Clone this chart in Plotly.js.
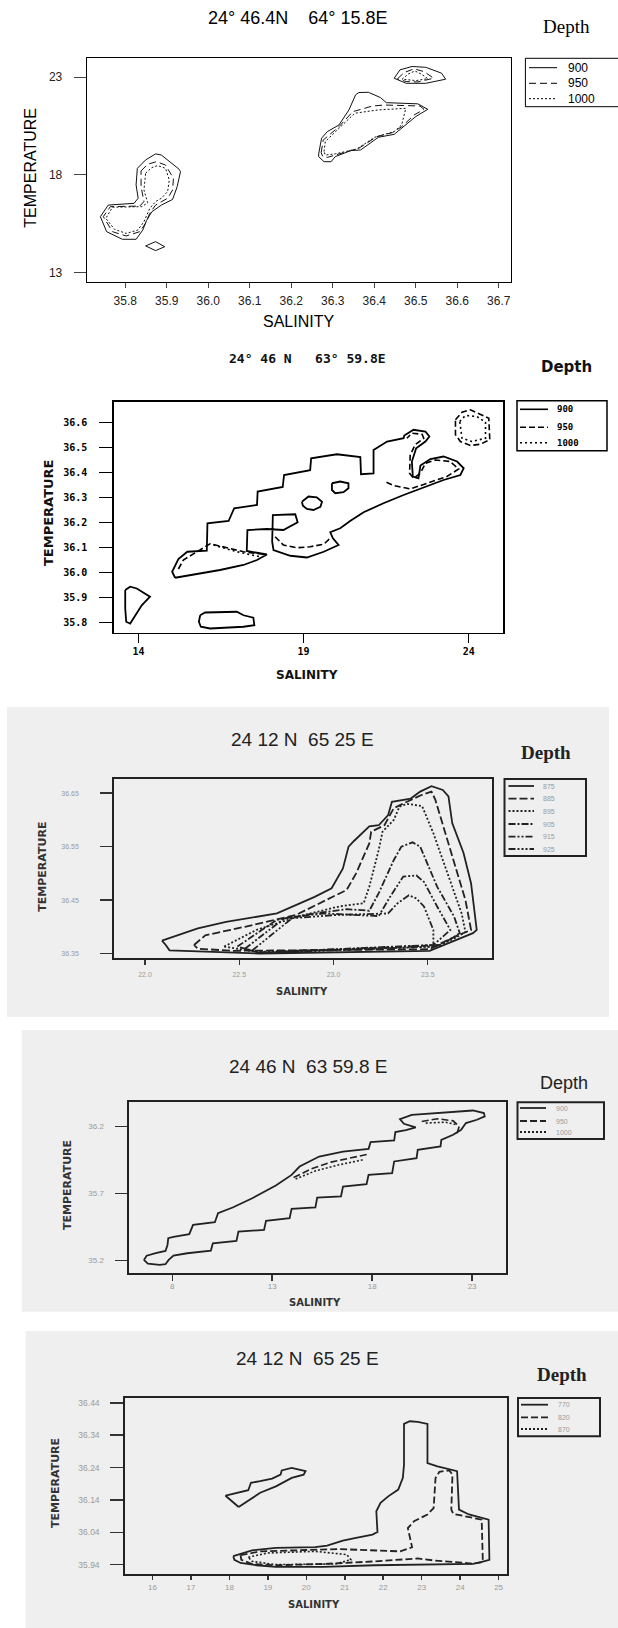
<!DOCTYPE html>
<html><head><meta charset="utf-8">
<script src="https://cdn.plot.ly/plotly-3.0.1.min.js"></script>
<style>html,body{margin:0;padding:0;background:#fff;overflow:hidden}#chart{width:618px;height:1628px}</style>
</head><body><div id="chart"></div>
<script>
// ================= DATA (salinity = x, temperature = y) =================
// Panel 1 : 24° 46.4N 64° 15.8E
const p1_depths = ['900','950','1000'];
const p1_sal_900  = [35.829,35.849,35.873,35.887,35.930,35.933,35.925,35.914,35.887,35.864,35.851,35.842,35.826,35.793,35.755,35.740,35.759,35.821,35.831,35.826,35.829,null,
                     35.849,35.873,35.895,35.873,35.849,null,
                     36.266,36.273,36.287,36.315,36.339,36.355,36.363,36.386,36.415,36.429,36.505,36.529,36.500,36.467,36.448,36.410,36.367,36.344,36.306,36.296,36.279,36.266,36.266,null,
                     36.448,36.462,36.491,36.524,36.562,36.572,36.524,36.477,36.448];
const p1_temp_900 = [18.34,18.77,19.08,19.02,18.29,18.17,17.40,16.75,16.46,16.12,15.66,15.18,14.71,14.71,15.10,15.87,16.46,16.55,16.81,17.49,18.34,null,
                     14.37,14.59,14.33,14.13,14.37,null,
                     19.08,19.88,20.22,20.56,21.33,22.10,22.22,22.23,21.96,21.70,21.64,21.36,20.99,20.39,20.08,19.93,19.28,19.25,18.94,18.68,18.68,18.94,19.08,null,
                     22.95,23.38,23.55,23.51,23.21,22.90,22.69,22.69,22.95];
const p1_sal_950  = [35.838,35.854,35.875,35.897,35.916,35.914,35.902,35.873,35.859,35.849,35.835,35.802,35.769,35.747,35.764,35.835,35.845,35.838,35.838,null,
                     36.272,36.277,36.315,36.348,36.396,36.424,36.510,36.520,36.496,36.466,36.444,36.406,36.363,36.315,36.287,36.276,36.272,null,
                     36.456,36.472,36.496,36.520,36.543,36.505,36.477,36.456];
const p1_temp_950 = [18.21,18.55,18.68,18.51,17.83,17.23,16.81,16.46,16.04,15.53,15.10,14.88,15.10,15.87,16.38,16.41,16.64,17.40,18.21,null,
                     19.14,19.79,20.47,21.24,21.53,21.58,21.53,21.36,21.07,20.47,20.17,19.96,19.37,19.08,18.90,18.94,19.14,null,
                     22.92,23.24,23.43,23.29,22.95,22.76,22.78,22.92];
const p1_sal_1000  = [35.849,35.864,35.878,35.897,35.906,35.902,35.887,35.873,35.859,35.845,35.830,35.802,35.774,35.753,35.769,35.840,35.854,35.845,35.849,null,
                      36.279,36.282,36.315,36.353,36.410,36.476,36.466,36.448,36.401,36.358,36.306,36.282,36.279,null,
                      36.467,36.482,36.498,36.513,36.529,36.501,36.467];
const p1_temp_1000 = [18.09,18.38,18.48,18.34,17.74,17.15,16.81,16.64,16.29,15.61,15.18,15.01,15.22,15.78,16.35,16.38,16.58,17.23,18.09,null,
                      19.20,19.71,20.39,21.16,21.33,21.41,20.56,20.22,19.93,19.33,19.08,19.02,19.20,null,
                      22.90,23.17,23.32,23.17,22.93,22.83,22.90];
const p1_xticks = [35.8,35.9,36.0,36.1,36.2,36.3,36.4,36.5,36.6,36.7];
const p1_yticks = [13,18,23];

// Panel 2 : 24° 46 N 63° 59.8E
const p2_depths = ['900','950','1000'];
const p2_sal_900 = [15.11,15.02,15.21,15.48,16.07,16.09,16.73,16.90,17.59,17.61,18.37,18.41,19.20,19.23,20.01,20.72,20.74,21.12,21.12,21.53,22.03,22.05,22.33,22.69,22.81,22.69,22.41,22.28,22.31,22.48,22.54,22.84,23.24,23.65,23.85,23.75,23.24,22.79,22.48,22.03,21.42,20.82,20.41,20.11,19.81,19.89,20.06,19.61,19.10,18.60,18.09,18.05,18.07,18.75,18.82,18.39,17.89,17.30,17.28,17.89,17.59,17.18,16.47,15.67,15.11,null,
                    19.86,20.11,20.36,20.36,20.21,19.96,19.86,19.86,null,
                    18.95,19.15,19.40,19.56,19.51,19.30,19.10,18.98,18.95,null,
                    13.60,13.75,13.95,14.10,14.35,14.10,13.90,13.75,13.63,13.60,13.60,null,
                    15.87,16.02,16.98,17.18,17.48,17.51,17.18,16.17,15.89,15.83,15.87];
const p2_temp_900 = [35.979,36.003,36.054,36.083,36.087,36.197,36.206,36.257,36.270,36.324,36.342,36.390,36.409,36.457,36.473,36.462,36.393,36.396,36.490,36.524,36.537,36.548,36.571,36.564,36.544,36.524,36.497,36.444,36.384,36.377,36.428,36.454,36.464,36.444,36.417,36.390,36.370,36.348,36.330,36.310,36.277,36.241,36.206,36.177,36.161,36.137,36.110,36.083,36.060,36.067,36.090,36.123,36.230,36.233,36.201,36.170,36.174,36.170,36.086,36.072,36.050,36.030,36.010,35.990,35.979,null,
                     36.357,36.364,36.357,36.337,36.321,36.317,36.330,36.357,null,
                     36.283,36.304,36.301,36.283,36.263,36.250,36.254,36.267,36.283,null,
                     35.930,35.943,35.936,35.923,35.903,35.869,35.829,35.796,35.803,35.856,35.930,null,
                     35.829,35.840,35.843,35.829,35.819,35.789,35.783,35.776,35.783,35.803,35.829];
const p2_sal_950 = [15.21,15.36,16.17,16.58,17.18,17.84,null,
                    18.14,18.39,18.80,19.20,19.61,19.81,null,
                    21.51,21.73,22.23,22.74,23.34,23.70,23.44,22.99,22.69,22.54,22.33,22.21,22.23,22.38,22.64,22.59,22.28,22.13,null,
                    23.60,23.80,24.05,24.30,24.61,24.64,24.35,24.05,23.75,23.60,23.60];
const p2_temp_950 = [36.014,36.050,36.115,36.103,36.083,36.072,null,
                     36.143,36.110,36.099,36.103,36.113,36.137,null,
                     36.361,36.348,36.334,36.357,36.384,36.414,36.444,36.450,36.437,36.397,36.377,36.397,36.470,36.511,36.537,36.553,36.557,36.537,null,
                     36.611,36.641,36.651,36.637,36.617,36.531,36.513,36.508,36.524,36.551,36.611];
const p2_sal_1000  = [16.27,16.98,17.69,null, 23.73,23.90,24.25,24.51,24.51,24.10,23.80,23.73];
const p2_temp_1000 = [36.110,36.083,36.063,null, 36.604,36.628,36.624,36.601,36.537,36.524,36.537,36.604];
const p2_xticks = [14,19,24];
const p2_yticks = [35.8,35.9,36.0,36.1,36.2,36.3,36.4,36.5,36.6];

// Panel 3 : 24 12 N 65 25 E
const p3_depths = ['875','885','895','905','915','925'];
const p3_sal_875  = [22.09,22.28,22.43,22.70,22.90,22.99,23.05,23.08,23.11,23.19,23.24,23.29,23.31,23.41,23.46,23.52,23.58,23.61,23.63,23.69,23.73,23.76,23.74,23.67,23.57,23.51,22.61,22.42,22.13,22.11,22.09];
const p3_temp_875 = [36.374,36.397,36.409,36.425,36.456,36.472,36.509,36.550,36.561,36.588,36.590,36.609,36.634,36.640,36.653,36.663,36.656,36.644,36.594,36.538,36.481,36.394,36.388,36.378,36.363,36.355,36.350,36.352,36.356,36.366,36.374];
const p3_sal_885  = [22.26,22.32,22.53,22.80,23.07,23.12,23.19,23.20,23.27,23.32,23.39,23.47,23.52,23.54,23.62,23.70,23.73,23.66,23.57,23.51,22.46,22.28,22.26];
const p3_temp_885 = [36.366,36.384,36.400,36.422,36.469,36.500,36.556,36.578,36.590,36.622,36.634,36.647,36.653,36.638,36.544,36.450,36.394,36.384,36.369,36.358,36.355,36.359,36.366];
const p3_sal_895  = [22.42,22.59,22.82,23.03,23.16,23.19,23.24,23.26,23.32,23.35,23.39,23.47,23.53,23.61,23.68,23.70,23.64,23.55,22.59,22.42];
const p3_temp_895 = [36.363,36.394,36.420,36.438,36.444,36.475,36.544,36.578,36.600,36.625,36.630,36.626,36.575,36.494,36.425,36.390,36.378,36.363,36.353,36.363];
const p3_sal_905  = [22.49,22.70,22.90,23.07,23.19,23.24,23.32,23.36,23.42,23.46,23.55,23.64,23.67,23.57,22.61,22.49];
const p3_temp_905 = [36.363,36.413,36.425,36.433,36.430,36.463,36.525,36.550,36.558,36.550,36.475,36.419,36.388,36.366,36.351,36.363];
const p3_sal_915  = [22.53,22.74,22.95,23.24,23.30,23.37,23.44,23.48,23.55,23.62,23.53,22.61,22.53];
const p3_temp_915 = [36.359,36.416,36.425,36.420,36.456,36.494,36.496,36.484,36.438,36.394,36.366,36.352,36.359];
const p3_sal_925  = [22.57,22.78,23.01,23.29,23.34,23.40,23.44,23.48,23.53,23.53,22.65,22.57];
const p3_temp_925 = [36.356,36.416,36.422,36.425,36.444,36.459,36.453,36.438,36.394,36.363,36.351,36.356];
const p3_xticks = [22.0,22.5,23.0,23.5];
const p3_yticks = [36.35,36.45,36.55,36.65];

// Panel 4 : 24 46 N 63 59.8 E
const p4_depths = ['900','950','1000'];
const p4_sal_900  = [6.58,6.72,7.17,7.66,7.76,7.80,8.06,8.85,9.04,10.13,10.29,11.02,12.00,13.18,13.97,14.37,15.35,16.54,17.82,17.92,19.10,19.16,19.69,20.18,19.59,19.39,19.98,22.05,23.04,23.59,23.63,23.24,22.69,22.45,22.05,21.46,21.42,20.28,20.22,19.10,19.00,17.82,17.72,16.54,16.44,15.25,15.16,13.97,13.87,12.69,12.59,11.31,11.21,10.03,9.93,8.75,8.06,7.82,7.66,7.37,6.78,6.58];
const p4_temp_900 = [35.205,35.237,35.255,35.272,35.317,35.367,35.377,35.397,35.466,35.486,35.553,35.596,35.665,35.760,35.839,35.901,35.976,36.013,36.033,36.083,36.096,36.158,36.173,36.193,36.220,36.255,36.287,36.307,36.319,36.300,36.275,36.250,36.225,36.175,36.138,36.100,36.051,36.026,35.964,35.939,35.852,35.839,35.770,35.752,35.678,35.670,35.596,35.586,35.516,35.496,35.429,35.416,35.347,35.329,35.275,35.255,35.237,35.205,35.173,35.168,35.178,35.205];
const p4_sal_950   = [14.07,14.96,15.94,17.13,17.82,null,20.48,21.27,22.05,22.35,22.25];
const p4_temp_950  = [35.819,35.884,35.934,35.969,35.994,null,36.237,36.257,36.242,36.200,36.150];
const p4_sal_1000  = [14.17,15.16,16.34,17.52,null,20.68,21.66,22.25];
const p4_temp_1000 = [35.809,35.869,35.914,35.951,null,36.225,36.232,36.212];
const p4_xticks = [8,13,18,23];
const p4_yticks = [35.2,35.7,36.2];

// Panel 5 : 24 12 N 65 25 E
const p5_depths = ['770','820','870'];
const p5_sal_770  = [18.10,18.59,19.21,20.23,20.54,20.95,21.26,21.72,21.85,21.82,21.93,22.13,22.39,22.51,22.54,22.54,22.69,22.90,23.15,23.15,23.41,23.92,23.97,24.23,24.74,24.76,24.54,24.33,21.77,20.44,19.21,18.70,18.29,18.13,18.10,null,
                     18.24,17.90,18.49,18.56,18.80,19.11,19.33,19.36,19.62,19.98,19.93,19.62,19.21,18.80,18.24];
const p5_temp_770 = [35.966,35.984,35.992,35.994,35.999,36.014,36.022,36.033,36.041,36.105,36.131,36.151,36.172,36.208,36.249,36.375,36.383,36.381,36.375,36.254,36.244,36.229,36.110,36.095,36.079,35.955,35.948,35.942,35.938,35.933,35.933,35.938,35.945,35.955,35.966,null,
                     36.118,36.153,36.170,36.193,36.198,36.206,36.218,36.231,36.239,36.229,36.218,36.208,36.182,36.162,36.118];
const p5_sal_820  = [18.29,18.80,20.85,22.44,22.75,22.69,22.64,22.80,23.15,23.31,23.36,23.46,23.72,23.80,23.77,23.82,24.23,24.56,24.59,24.33,23.31,22.90,21.77,20.44,19.21,18.59,18.31,18.29];
const p5_temp_820 = [35.969,35.981,35.988,35.981,35.994,36.022,36.053,36.074,36.095,36.115,36.208,36.227,36.231,36.218,36.110,36.097,36.086,36.079,35.948,35.943,35.953,35.959,35.950,35.942,35.938,35.942,35.955,35.969];
const p5_sal_870  = [18.49,19.00,20.23,21.05,21.16,20.75,19.21,18.59,18.49];
const p5_temp_870 = [35.963,35.976,35.981,35.971,35.955,35.942,35.940,35.950,35.963];
const p5_xticks = [16,17,18,19,20,21,22,23,24,25];
const p5_yticks = [35.94,36.04,36.14,36.24,36.34,36.44];

// ================= LAYOUT HELPERS (page pixels -> paper) =================
const W = 618, H = 1628;
const fx = v => v / W, fy = v => 1 - v / H;
const SANS = 'Liberation Sans, Arial, sans-serif';
const SERIF = 'Liberation Serif, Times New Roman, serif';
const DJ = 'DejaVu Sans, sans-serif';
const MONO = 'DejaVu Sans Mono, monospace';

const traces = [], shapes = [], annotations = [];
const layout = {
  width: W, height: H, margin: {l:0, r:0, t:0, b:0},
  paper_bgcolor: '#ffffff', plot_bgcolor: 'rgba(0,0,0,0)',
  showlegend: false, shapes, annotations
};

function axes(n, box, xr, yr, xt, yt, o) {
  const xk = n === 1 ? 'xaxis' : 'xaxis' + n, yk = n === 1 ? 'yaxis' : 'yaxis' + n;
  const xa = n === 1 ? 'x' : 'x' + n, ya = n === 1 ? 'y' : 'y' + n;
  const common = {showline:true, mirror:true, linecolor:o.lc, linewidth:o.lw, showgrid:false, zeroline:false,
                  ticks:'outside', tickwidth:o.tw, tickcolor:o.tc, fixedrange:true};
  layout[xk] = Object.assign({}, common, {domain:[fx(box[0]), fx(box[2])], range:xr, anchor:ya, tickfont:o.xtf || o.tf,
      tickvals:xt, ticktext:xt.map(v => o.xfmt(v)), ticklen:o.xtl, ticklabelstandoff:o.xso});
  layout[yk] = Object.assign({}, common, {domain:[fy(box[3]), fy(box[1])], range:yr, anchor:xa, tickfont:o.ytf || o.tf,
      tickvals:yt, ticktext:yt.map(v => o.yfmt(v)), ticklen:o.ytl, ticklabelstandoff:o.yso});
}
function line(n, xs, ys, color, width, dash) {
  const xa = n === 1 ? 'x' : 'x' + n, ya = n === 1 ? 'y' : 'y' + n;
  traces.push({type:'scatter', mode:'lines', x:xs, y:ys, xaxis:xa, yaxis:ya,
               line:{color, width, dash}, hoverinfo:'skip', connectgaps:false});
}
function text(t, x, y, font, extra) {
  annotations.push(Object.assign({text:t, x:fx(x), y:fy(y), xref:'paper', yref:'paper',
      showarrow:false, xanchor:'center', yanchor:'middle', font}, extra || {}));
}
function rect(x0, y0, x1, y1, fill, lc, lw, layer) {
  shapes.push({type:'rect', xref:'paper', yref:'paper', x0:fx(x0), x1:fx(x1), y0:fy(y1), y1:fy(y0),
      fillcolor:fill, line:{color:lc, width:lw}, layer:layer || 'above'});
}
function legend(box, bw, items, sx0, sx1, lx, font, lc, lwid) {
  rect(box[0], box[1], box[2], box[3], 'rgba(0,0,0,0)', lc, bw);
  items.forEach(it => {
    shapes.push({type:'line', xref:'paper', yref:'paper', x0:fx(sx0), x1:fx(sx1), y0:fy(it.y), y1:fy(it.y),
                 line:{color:lc, width:lwid, dash:it.dash}});
    text(it.label, lx, it.y, font, {xanchor:'left'});
  });
}
const f1 = v => v.toFixed(1), f0 = v => String(v), f2 = v => v.toFixed(2);

// ---------------- Panel 1 ----------------
axes(1, [86.7,58.3,511.2,281.7], [35.707,36.73], [12.54,23.97], p1_xticks, p1_yticks,
  {lc:'#000', lw:1, tw:1, tc:'#444', tf:{family:SANS, size:12, color:'#222'}, xtl:5, ytl:12, xso:3, yso:9, xfmt:f1, yfmt:f0});
line(1, p1_sal_900, p1_temp_900, '#111', 1, 'solid');
line(1, p1_sal_950, p1_temp_950, '#111', 1, '7px,4px');
line(1, p1_sal_1000, p1_temp_1000, '#111', 1, '2px,2px');
text('24° 46.4N\u00a0\u00a0\u00a0 64° 15.8E', 298, 18.3, {family:SANS, size:18, color:'#000'});
text('Depth', 566, 26, {family:SERIF, size:19, color:'#000'});
text('SALINITY', 298, 321.7, {family:SANS, size:16, color:'#000'});
text('TEMPERATURE', 30.7, 168, {family:SANS, size:16, color:'#000'}, {textangle:-90});
legend([525.4,58.3,622,106.7], 1, [
  {y:67.7, dash:'solid', label:p1_depths[0]}, {y:83.3, dash:'7px,4px', label:p1_depths[1]}, {y:98.7, dash:'2px,2px', label:p1_depths[2]}],
  529, 557, 566, {family:SANS, size:12, color:'#000'}, '#000', 1);

// ---------------- Panel 2 ----------------
axes(2, [114,401.5,503,632.5], [13.26,25.04], [35.76,36.684], p2_xticks, p2_yticks,
  {lc:'#000', lw:1.6, tw:1.5, tc:'#000', tf:{family:MONO, size:10, color:'#000', weight:'bold'}, xtl:9, ytl:13, xso:0, yso:10, xfmt:f0, yfmt:f1});
line(2, p2_sal_900, p2_temp_900, '#000', 1.8, 'solid');
line(2, p2_sal_950, p2_temp_950, '#000', 1.6, '6px,3px');
line(2, p2_sal_1000, p2_temp_1000, '#000', 1.6, '2px,3px');
text('24° 46 N\u00a0\u00a0 63° 59.8E', 307, 358, {family:MONO, size:13, color:'#111', weight:'bold'});
text('Depth', 566, 367, {family:DJ, size:15, color:'#111', weight:'bold'});
text('SALINITY', 307, 675, {family:DJ, size:12, color:'#111', weight:'bold'});
text('TEMPERATURE', 48, 513, {family:DJ, size:13, color:'#111', weight:'bold'}, {textangle:-90});
legend([517,400.7,607,450.7], 1.5, [
  {y:409.3, dash:'solid', label:p2_depths[0]}, {y:427.3, dash:'6px,3px', label:p2_depths[1]}, {y:442.7, dash:'2px,3px', label:p2_depths[2]}],
  520, 548, 555, {family:MONO, size:9, color:'#000', weight:'bold'}, '#000', 1.6);

// ---------------- Panel 3 ----------------
rect(7, 707, 609, 1017, '#efefef', 'rgba(0,0,0,0)', 0, 'below');
axes(3, [114.3,779.3,492,958.3], [21.837,23.841], [36.341,36.676], p3_xticks, p3_yticks,
  {lc:'#222', lw:2, tw:1.5, tc:'#333', tf:{family:SANS, size:7, color:'#9a9a9a'}, xtl:5, ytl:12, xso:3, yso:20, xfmt:f1, yfmt:f2});
const p3dash = ['solid','8px,3px','2px,2px','7px,2px,2px,2px','7px,2px,2px,2px,2px,2px','7px,2px,2px,2px,2px,2px,2px,2px'];
[[p3_sal_875,p3_temp_875],[p3_sal_885,p3_temp_885],[p3_sal_895,p3_temp_895],[p3_sal_905,p3_temp_905],[p3_sal_915,p3_temp_915],[p3_sal_925,p3_temp_925]]
  .forEach((d, i) => line(3, d[0], d[1], '#222', 1.8, p3dash[i]));
text('24 12 N\u00a0 65 25 E', 302, 739, {family:SANS, size:19, color:'#222'});
text('Depth', 546, 752, {family:SERIF, size:19, color:'#222', weight:'bold'});
text('SALINITY', 301.5, 991.7, {family:DJ, size:10, color:'#333', weight:'bold'});
text('TEMPERATURE', 43, 866.7, {family:DJ, size:11, color:'#333', weight:'bold'}, {textangle:-90});
legend([504.5,779,586,856], 2, p3_depths.map((d, i) => ({y:[786,798.7,811,824,836.7,849][i], dash:p3dash[i], label:d})),
  508.5, 534, 541, {family:SANS, size:7, color:'#9a9a9a'}, '#222', 1.8);

// ---------------- Panel 4 ----------------
rect(21.7, 1030, 620, 1311.7, '#efefef', 'rgba(0,0,0,0)', 0, 'below');
axes(4, [128.5,1102.3,505.7,1272.7], [5.81,24.68], [35.11,36.38], p4_xticks, p4_yticks,
  {lc:'#222', lw:2, tw:1.5, tc:'#333', tf:{family:SANS, size:8, color:'#9a9a9a'}, xtl:6, ytl:12, xso:-1, yso:9, xfmt:f0, yfmt:f1});
line(4, p4_sal_900, p4_temp_900, '#222', 1.8, 'solid');
line(4, p4_sal_950, p4_temp_950, '#222', 1.6, '7px,3px');
line(4, p4_sal_1000, p4_temp_1000, '#222', 1.6, '2px,2px');
text('24 46 N\u00a0 63 59.8 E', 307.5, 1066.7, {family:SANS, size:19, color:'#222'});
text('Depth', 563.7, 1083.3, {family:SANS, size:18, color:'#222'});
text('SALINITY', 315, 1302.7, {family:DJ, size:10, color:'#333', weight:'bold'});
text('TEMPERATURE', 67, 1185, {family:DJ, size:11, color:'#333', weight:'bold'}, {textangle:-90});
legend([517.5,1102.3,604,1139], 2, [
  {y:1108, dash:'solid', label:p4_depths[0]}, {y:1121, dash:'7px,3px', label:p4_depths[1]}, {y:1132, dash:'2px,2px', label:p4_depths[2]}],
  520, 546, 554, {family:SANS, size:7, color:'#9a9a9a'}, '#222', 1.8);

// ---------------- Panel 5 ----------------
rect(25.6, 1331, 620, 1630, '#efefef', 'rgba(0,0,0,0)', 0, 'below');
axes(5, [125.3,1398,506.5,1574], [15.293,25.205], [35.911,36.455], p5_xticks, p5_yticks,
  {lc:'#222', lw:2, tw:1.5, tc:'#333', tf:{family:SANS, size:8, color:'#9a9a9a'}, ytf:{family:SANS, size:8.5, color:'#9a9a9a'},
   xtl:4, ytl:13, xso:0, yso:9, xfmt:f0, yfmt:f2});
line(5, p5_sal_770, p5_temp_770, '#222', 1.8, 'solid');
line(5, p5_sal_820, p5_temp_820, '#222', 1.8, '7px,3px');
line(5, p5_sal_870, p5_temp_870, '#222', 1.6, '2px,2px');
text('24 12 N\u00a0 65 25 E', 307.5, 1358, {family:SANS, size:19, color:'#222'});
text('Depth', 561.7, 1374.7, {family:SERIF, size:19, color:'#222', weight:'bold'});
text('SALINITY', 314, 1604, {family:DJ, size:10, color:'#333', weight:'bold'});
text('TEMPERATURE', 55, 1483, {family:DJ, size:11, color:'#333', weight:'bold'}, {textangle:-90});
legend([518,1398,600,1436.3], 2, [
  {y:1404.7, dash:'solid', label:p5_depths[0]}, {y:1417.3, dash:'7px,3px', label:p5_depths[1]}, {y:1429, dash:'2px,2px', label:p5_depths[2]}],
  521, 548, 556, {family:SANS, size:7, color:'#9a9a9a'}, '#222', 1.8);

Plotly.newPlot('chart', traces, layout, {staticPlot:true, displayModeBar:false});
</script></body></html>
